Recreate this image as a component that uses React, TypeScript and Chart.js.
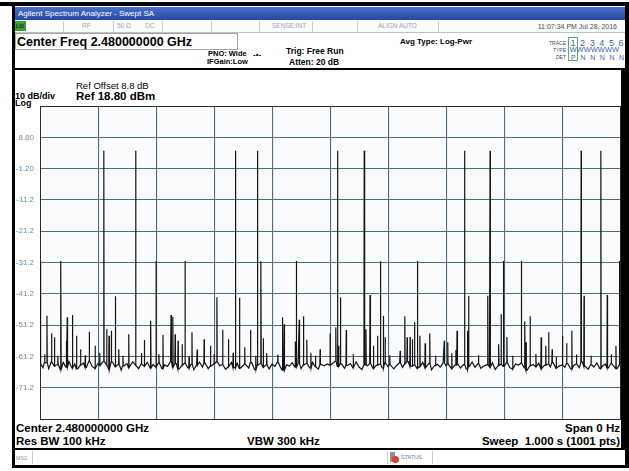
import React, { useEffect, useRef } from "react";
import { Chart, registerables } from "chart.js";

Chart.register(...registerables);

const FONT = "'Liberation Sans', Arial, Helvetica, sans-serif";

// Amplitude grid: Ref 18.80 dBm, 10 dB/div
const yGridValues = [18.8, 8.8, -1.2, -11.2, -21.2, -31.2, -41.2, -51.2, -61.2, -71.2, -81.2];
const yTickLabels = ["", "8.80", "-1.20", "-11.2", "-21.2", "-31.2", "-41.2", "-51.2", "-61.2", "-71.2", ""];
// Sweep grid: 1001 points, 10 divisions
const xGridValues = [0, 100, 200, 300, 400, 500, 600, 700, 800, 900, 1000];

// Noise floor, one reading every 5 sweep points (0..1000)
const floorStep = 5;
const noiseFloor = [
  -63.5, -64.8, -63.2, -65.1, -62.9, -64.3, -63.8, -65.4, -63.1, -64.6, -62.8, -64.9, -63.6, -65.2, -64.0, -63.3, -64.7, -62.6, -64.4, -65.0,
  -63.4, -64.1, -62.7, -63.9, -65.3, -63.0, -64.5, -63.7, -65.6, -64.2, -63.5, -64.8, -62.9, -64.0, -65.1, -63.6, -64.3, -63.1, -64.9, -63.8,
  -64.6, -63.2, -65.0, -63.9, -64.4, -62.8, -64.7, -63.5, -65.2, -64.1, -63.3, -64.9, -63.7, -65.5, -64.0, -63.0, -64.6, -63.4, -65.1, -64.3,
  -63.6, -62.9, -64.2, -63.8, -65.3, -64.5, -63.1, -64.8, -63.4, -65.0, -64.2, -63.6, -64.9, -63.2, -65.4, -64.0, -63.5, -64.7, -63.9, -65.2,
  -63.7, -64.4, -63.0, -64.8, -65.6, -63.9, -64.3, -63.2, -64.6, -63.5, -65.1, -64.0, -63.4, -64.9, -63.1, -64.5, -65.3, -63.8, -64.2, -63.6,
  -64.0, -63.3, -62.7, -64.4, -63.6, -65.0, -64.1, -63.5, -64.8, -63.0, -64.6, -65.4, -63.9, -64.2, -63.4, -65.1, -64.0, -63.7, -64.9, -63.2,
  -64.5, -63.8, -65.2, -64.0, -63.3, -64.7, -63.6, -62.9, -64.3, -63.9, -65.0, -64.4, -63.1, -64.8, -63.5, -65.5, -64.1, -63.7, -64.6, -63.3,
  -64.2, -63.6, -65.1, -64.0, -63.4, -64.9, -63.8, -65.3, -64.5, -63.0, -64.7, -63.5, -65.0, -64.3, -63.9, -64.6, -63.2, -65.4, -64.1, -63.7,
  -64.4, -63.1, -64.8, -65.2, -63.6, -64.0, -63.3, -64.9, -65.6, -64.2, -63.8, -64.5, -63.4, -65.1, -64.0, -63.7, -64.6, -63.2, -65.0, -64.3,
  -63.9, -64.7, -63.5, -65.2, -64.1, -63.6, -64.8, -63.0, -64.4, -65.3, -63.8, -64.6, -63.3, -65.0, -64.2, -63.7, -64.9, -63.4, -64.5, -65.1,
  -64.0,
];

// Full-power hops (sweep point, dBm)
const carrierIdx = [110, 165, 337, 375, 513, 559, 732, 776, 933, 967];
const carrierLevel = [4.5, 4.5, 4.5, 4.5, 4.5, 4.5, 4.5, 4.5, 4.5, 4.5];

// Bursts near -31 dBm
const burstIdx = [1, 36, 200, 250, 381, 442, 587, 651, 799, 830, 999];
const burstLevel = [-30.7, -30.7, -30.7, -30.7, -30.8, -30.7, -30.8, -30.7, -30.7, -30.7, -30.7];

// Bursts near -42 dBm
const midIdx = [130, 305, 344, 518, 569, 739, 772, 938, 978];
const midLevel = [-42.0, -42.3, -42.5, -42.3, -41.6, -41.8, -41.8, -41.8, -41.6];

// Low-level spurs
const spurIdx = [
  12, 20, 25, 45, 47, 56, 63, 70, 85, 95, 115, 119, 123, 136, 153, 175, 180, 191, 212, 226,
  229, 233, 238, 245, 262, 271, 283, 294, 315, 325, 333, 353, 363, 385, 391, 418, 421, 440, 447, 454,
  460, 467, 483, 500, 510, 515, 528, 562, 575, 582, 592, 595, 621, 629, 633, 638, 642, 646, 655, 664,
  672, 697, 703, 717, 719, 737, 791, 795, 805, 836, 838, 845, 864, 872, 877, 883, 901, 908, 917, 993,
];
const spurLevel = [
  -48.2, -53.9, -55.1, -56.2, -48.7, -48.0, -54.6, -58.9, -53.3, -57.8, -52.5, -54.6, -53.0, -58.9, -54.1, -60.1, -56.0, -49.8, -54.4, -48.0,
  -48.5, -54.1, -56.2, -57.3, -53.5, -59.0, -55.7, -57.8, -52.7, -55.7, -60.0, -58.3, -52.7, -55.4, -60.2, -48.7, -50.9, -56.4, -49.5, -48.4,
  -55.9, -60.0, -58.9, -53.9, -51.9, -57.8, -52.8, -52.5, -57.8, -54.6, -48.2, -55.1, -59.4, -48.4, -55.1, -55.0, -55.7, -50.3, -54.6, -57.0,
  -53.9, -56.2, -56.7, -59.2, -53.0, -53.0, -57.3, -47.7, -55.0, -50.0, -56.7, -48.4, -55.1, -57.8, -53.5, -58.9, -54.6, -57.0, -53.0, -57.8,
];

// Small bumps just above the floor
const bumpIdx = [8, 31, 78, 103, 143, 205, 257, 300, 372, 410, 475, 540, 603, 682, 710, 756, 815, 855, 890, 925, 950, 985];
const bumpLevel = [-60.5, -61.0, -60.8, -60.0, -61.0, -60.5, -61.2, -60.4, -61.0, -60.6, -61.0, -60.5, -60.8, -61.0, -60.2, -60.8, -61.0, -60.4, -61.2, -60.6, -61.0, -60.5];

type Pt = { x: number; y: number };

function buildTrace(): Pt[] {
  const pts: Pt[] = noiseFloor.map((v, i) => ({ x: i * floorStep, y: v }));
  const addPeaks = (idx: number[], lvl: number[]) => {
    idx.forEach((p, k) => {
      const base = noiseFloor[Math.round(p / floorStep)];
      pts.push({ x: p - 0.5, y: base }, { x: p, y: lvl[k] }, { x: p + 0.5, y: base });
    });
  };
  addPeaks(carrierIdx, carrierLevel);
  addPeaks(burstIdx, burstLevel);
  addPeaks(midIdx, midLevel);
  addPeaks(spurIdx, spurLevel);
  addPeaks(bumpIdx, bumpLevel);
  pts.sort((a, b) => a.x - b.x);
  return pts;
}

const plotBackground = {
  id: "plotBackground",
  beforeDraw(chart: any) {
    const { ctx, chartArea: a } = chart;
    ctx.save();
    ctx.fillStyle = "#fafbfd";
    ctx.fillRect(a.left, a.top, a.width, a.height);
    ctx.restore();
  },
};

// faint warm fringe beside each inner vertical graticule line
const graticuleFringe = {
  id: "graticuleFringe",
  beforeDatasetsDraw(chart: any) {
    const { ctx, chartArea: a, scales } = chart;
    ctx.save();
    ctx.strokeStyle = "rgba(232,170,140,0.22)";
    ctx.lineWidth = 1;
    xGridValues.slice(1, -1).forEach((v) => {
      const x = Math.round(scales.x.getPixelForValue(v) - 0.5) + 1.5;
      ctx.beginPath();
      ctx.moveTo(x, a.top);
      ctx.lineTo(x, a.bottom);
      ctx.stroke();
    });
    ctx.restore();
  },
};

type TP = { x: number; y: number; s: number; b?: boolean; c?: string; r?: boolean; children: React.ReactNode };
function T({ x, y, s, b, c = "#000", r, children }: TP) {
  const st: React.CSSProperties = {
    position: "absolute",
    top: y - s * 0.47,
    fontSize: s,
    lineHeight: `${s}px`,
    fontWeight: b ? 700 : 400,
    color: c,
    whiteSpace: "pre",
  };
  if (r) st.right = 629 - x;
  else st.left = x;
  return <div style={st}>{children}</div>;
}

function Box({ x, y, w, h, bg, style }: { x: number; y: number; w: number; h: number; bg?: string; style?: React.CSSProperties }) {
  return <div style={{ position: "absolute", left: x, top: y, width: w, height: h, background: bg, boxSizing: "border-box", ...style }} />;
}

const statusSeparators = [63, 113, 162, 211, 259, 312, 357, 438];
const traceDigits = ["1", "2", "3", "4", "5", "6"];
const detLetters = ["P", "N", "N", "N", "N", "N"];

export default function App() {
  const ref = useRef<HTMLCanvasElement>(null);

  useEffect(() => {
    const chart = new Chart(ref.current!, {
      type: "line",
      data: {
        datasets: [
          {
            data: buildTrace(),
            borderColor: "#141414",
            borderWidth: 1.2,
            pointRadius: 0,
            tension: 0,
            fill: false,
          },
        ],
      },
      options: {
        animation: false,
        responsive: false,
        devicePixelRatio: 1,
        events: [],
        layout: { padding: { left: 0, right: 9, top: 106, bottom: 52 } },
        plugins: { legend: { display: false }, tooltip: { enabled: false } },
        scales: {
          x: {
            type: "linear",
            min: 0,
            max: 1000,
            afterBuildTicks: (s: any) => {
              s.ticks = xGridValues.map((v) => ({ value: v }));
            },
            afterFit: (s: any) => {
              s.height = 0;
            },
            ticks: { display: false },
            grid: {
              drawTicks: false,
              color: (c: any) => (c.tick && (c.tick.value === 0 || c.tick.value === 1000) ? "#2a2a2a" : "#44718a"),
              lineWidth: 1,
            },
            border: { display: true, color: "#2a2a2a", width: 1 },
          },
          y: {
            type: "linear",
            position: "left",
            min: -81.2,
            max: 18.8,
            afterBuildTicks: (s: any) => {
              s.ticks = yGridValues.map((v) => ({ value: v }));
            },
            afterFit: (s: any) => {
              s.width = 40;
            },
            ticks: {
              padding: 6,
              color: "#6b8ea5",
              font: { family: FONT, size: 8 },
              callback: (_v: any, i: number) => yTickLabels[i],
            },
            grid: {
              drawTicks: false,
              color: (c: any) => (c.tick && (c.tick.value === 18.8 || c.tick.value === -81.2) ? "#2a2a2a" : "#44718a"),
              lineWidth: 1,
            },
            border: { display: true, color: "#2a2a2a", width: 1 },
          },
        },
      },
      plugins: [plotBackground, graticuleFringe],
    } as any);
    return () => chart.destroy();
  }, []);

  return (
    <div
      style={{
        position: "fixed",
        left: 0,
        top: 0,
        width: 629,
        height: 471,
        background: "#ffffff",
        overflow: "hidden",
        fontFamily: FONT,
      }}
    >
      {/* window frame */}
      <Box x={0} y={2} w={629} h={4} bg="#000" />
      <Box x={12} y={6} w={3} h={461} bg="#000" />
      <Box x={625} y={6} w={4} h={461} bg="#000" />
      <Box x={12} y={465} w={617} h={3} bg="#000" />

      {/* title bar */}
      <Box x={15} y={7} w={610} h={13} bg="linear-gradient(#4a70c8, #2447a4)" />
      <T x={18} y={14} s={8} c="#ffffff">Agilent Spectrum Analyzer - Swept SA</T>

      {/* status row */}
      <Box x={15} y={20} w={610} h={13} bg="#fbfbfc" style={{ borderBottom: "1px solid #b9c1c9" }} />
      <Box x={15} y={21} w={11} h={10} bg="#3f9a3a" />
      <T x={16} y={26} s={5} b c="#10300e">LXI</T>
      {statusSeparators.map((sx) => (
        <Box key={sx} x={sx} y={21} w={1} h={11} bg="#c4ccd4" />
      ))}
      <T x={82} y={26.5} s={6.5} c="#9aa7b3">RF</T>
      <T x={117} y={26.5} s={6.5} c="#9aa7b3">50 Ω</T>
      <T x={145} y={26.5} s={6.5} c="#9aa7b3">DC</T>
      <T x={272} y={26.5} s={6.5} c="#9aa7b3">SENSE:INT</T>
      <T x={378} y={26.5} s={6.5} c="#9aa7b3">ALIGN AUTO</T>
      <T x={617} y={26.5} s={7} c="#4a4f55" r>11:07:34 PM Jul 28, 2016</T>

      {/* centre frequency entry */}
      <Box x={15} y={33} w={223} h={17} style={{ border: "1px solid #a4a4a4" }} />
      <T x={17} y={42} s={12.5} b>Center Freq 2.480000000 GHz</T>

      {/* acquisition settings */}
      <T x={208} y={54} s={7.5} b>PNO: Wide</T>
      <T x={207} y={62} s={7.5} b>IFGain:Low</T>
      <T x={253} y={54.5} s={8} b>{"-•-"}</T>
      <T x={286} y={50.5} s={8.5} b>Trig: Free Run</T>
      <T x={289} y={62} s={8.5} b>Atten: 20 dB</T>
      <T x={400} y={42} s={8} b>Avg Type: Log-Pwr</T>

      {/* trace table */}
      <T x={566} y={43} s={5} c="#3c4a56" r>TRACE</T>
      <T x={566} y={50} s={5} c="#3c4a56" r>TYPE</T>
      <T x={566} y={57} s={5} c="#3c4a56" r>DET</T>
      <Box x={568} y={37} w={10} h={24} style={{ border: "1px solid #5fae6a" }} />
      {traceDigits.map((d, i) => (
        <T key={"d" + i} x={570.5 + i * 9.6} y={43} s={9} c="#3e63a8">{d}</T>
      ))}
      <T x={569.5} y={50} s={7.5} c="#3e63a8">{"WWWWWWW"}</T>
      {detLetters.map((d, i) => (
        <T key={"p" + i} x={571 + i * 9.6} y={57} s={7} c="#3e63a8">{d}</T>
      ))}

      {/* measurement panel */}
      <Box x={15} y={68} w={610} h={2} bg="#000" />
      <Box x={621} y={68} w={4} h={382} bg="#000" />
      <Box x={15} y={448} w={610} h={2} bg="#000" />

      <T x={76} y={85} s={9.5}>Ref Offset 8.8 dB</T>
      <T x={76} y={96} s={11.5} b>Ref 18.80 dBm</T>
      <T x={15} y={96.5} s={9} b>10 dB/div</T>
      <T x={15} y={103.5} s={9} b>Log</T>

      <T x={16} y={428} s={11.5} b>Center 2.480000000 GHz</T>
      <T x={16} y={441} s={11.5} b>Res BW 100 kHz</T>
      <T x={247} y={441} s={11.5} b>VBW 300 kHz</T>
      <T x={620} y={428} s={11.5} b r>Span 0 Hz</T>
      <T x={620} y={441} s={11.5} b r>{"Sweep  1.000 s (1001 pts)"}</T>

      {/* message / status line */}
      <T x={16} y={458} s={5} c="#8494a3">MSG</T>
      <Box x={32} y={451} w={1} h={13} bg="#c4ccd4" />
      <Box x={387} y={451} w={1} h={13} bg="#c4ccd4" />
      <Box x={432} y={451} w={1} h={13} bg="#c4ccd4" />
      <Box x={390} y={452} w={5} h={10} bg="#8a8f96" />
      <Box x={392} y={456} w={7} h={7} bg="#e2412e" style={{ borderRadius: "50%" }} />
      <T x={401} y={458} s={5.5} c="#5f7f9c">STATUS</T>

      <canvas ref={ref} width={629} height={471} style={{ position: "absolute", left: 0, top: 0 }} />
    </div>
  );
}
